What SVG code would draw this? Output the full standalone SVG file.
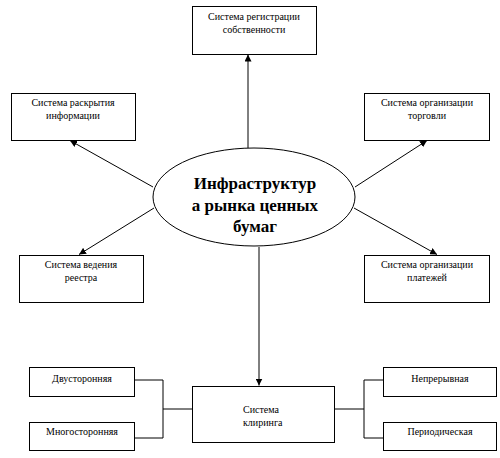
<svg xmlns="http://www.w3.org/2000/svg" width="500" height="458" viewBox="0 0 500 458">
<defs>
<marker id="a" viewBox="0 0 10 10" refX="10" refY="5" markerWidth="7" markerHeight="7" orient="auto" markerUnits="userSpaceOnUse">
<path d="M0,0 L10,5 L0,10 z" fill="#000"/>
</marker>
</defs>
<rect width="500" height="458" fill="#fff"/>
<g id="connectors" fill="none" stroke="#000" stroke-width="1">
<line x1="248" y1="148" x2="248" y2="54.5" marker-end="url(#a)"/>
<line x1="153" y1="187" x2="70" y2="140.5" marker-end="url(#a)"/>
<line x1="355" y1="187" x2="427" y2="140.5" marker-end="url(#a)"/>
<line x1="154" y1="208" x2="79" y2="254.5" marker-end="url(#a)"/>
<line x1="354" y1="208" x2="437" y2="254.5" marker-end="url(#a)"/>
<line x1="259" y1="247" x2="259" y2="385.5" marker-end="url(#a)"/>
<polyline points="135,380 163,380 163,438 135,438"/>
<line x1="163" y1="409" x2="192" y2="409"/>
<polyline points="383,380 364,380 364,438 383,438"/>
<line x1="335" y1="409" x2="364" y2="409"/>
</g>
<g id="center">
<ellipse cx="254" cy="197" rx="101" ry="49" fill="#fff" stroke="#000"/>
<text x="255" y="189" style="font-family:'Times New Roman','Liberation Serif',serif;font-size:17px;font-weight:bold;text-anchor:middle">Инфраструктур</text>
<text x="255" y="211" style="font-family:'Times New Roman','Liberation Serif',serif;font-size:17px;font-weight:bold;text-anchor:middle">а рынка ценных</text>
<text x="255" y="232" style="font-family:'Times New Roman','Liberation Serif',serif;font-size:17px;font-weight:bold;text-anchor:middle">бумаг</text>
</g>
<g id="n-registration">
<rect x="192.5" y="6.5" width="124" height="48" fill="#fff" stroke="#000"/>
<text x="254" y="20" style="font-family:'Times New Roman','Liberation Serif',serif;font-size:10px;text-anchor:middle">Система регистрации</text>
<text x="254" y="33" style="font-family:'Times New Roman','Liberation Serif',serif;font-size:10px;text-anchor:middle">собственности</text>
</g>
<g id="n-disclosure">
<rect x="11.5" y="93.5" width="124" height="47" fill="#fff" stroke="#000"/>
<text x="73" y="106" style="font-family:'Times New Roman','Liberation Serif',serif;font-size:10px;text-anchor:middle">Система раскрытия</text>
<text x="73" y="119" style="font-family:'Times New Roman','Liberation Serif',serif;font-size:10px;text-anchor:middle">информации</text>
</g>
<g id="n-trade">
<rect x="364.5" y="93.5" width="125" height="47" fill="#fff" stroke="#000"/>
<text x="427" y="106" style="font-family:'Times New Roman','Liberation Serif',serif;font-size:10px;text-anchor:middle">Система организации</text>
<text x="427" y="119" style="font-family:'Times New Roman','Liberation Serif',serif;font-size:10px;text-anchor:middle">торговли</text>
</g>
<g id="n-registry">
<rect x="19.5" y="255.5" width="124" height="47" fill="#fff" stroke="#000"/>
<text x="81" y="268" style="font-family:'Times New Roman','Liberation Serif',serif;font-size:10px;text-anchor:middle">Система ведения</text>
<text x="81" y="281" style="font-family:'Times New Roman','Liberation Serif',serif;font-size:10px;text-anchor:middle">реестра</text>
</g>
<g id="n-payments">
<rect x="364.5" y="255.5" width="125" height="47" fill="#fff" stroke="#000"/>
<text x="427" y="268" style="font-family:'Times New Roman','Liberation Serif',serif;font-size:10px;text-anchor:middle">Система организации</text>
<text x="427" y="281" style="font-family:'Times New Roman','Liberation Serif',serif;font-size:10px;text-anchor:middle">платежей</text>
</g>
<g id="n-clearing">
<rect x="192.5" y="386.5" width="142" height="56" fill="#fff" stroke="#000"/>
<text x="243" y="413" style="font-family:'Times New Roman','Liberation Serif',serif;font-size:10px">Система</text>
<text x="243" y="426" style="font-family:'Times New Roman','Liberation Serif',serif;font-size:10px">клиринга</text>
</g>
<g id="n-bilateral">
<rect x="29.5" y="367.5" width="105" height="29" fill="#fff" stroke="#000"/>
<text x="82" y="382" style="font-family:'Times New Roman','Liberation Serif',serif;font-size:10px;text-anchor:middle">Двусторонняя</text>
</g>
<g id="n-multilateral">
<rect x="29.5" y="422.5" width="105" height="28" fill="#fff" stroke="#000"/>
<text x="82" y="435" style="font-family:'Times New Roman','Liberation Serif',serif;font-size:10px;text-anchor:middle">Многосторонняя</text>
</g>
<g id="n-continuous">
<rect x="383.5" y="367.5" width="113" height="29" fill="#fff" stroke="#000"/>
<text x="440" y="382" style="font-family:'Times New Roman','Liberation Serif',serif;font-size:10px;text-anchor:middle">Непрерывная</text>
</g>
<g id="n-periodic">
<rect x="383.5" y="422.5" width="113" height="28" fill="#fff" stroke="#000"/>
<text x="440" y="435" style="font-family:'Times New Roman','Liberation Serif',serif;font-size:10px;text-anchor:middle">Периодическая</text>
</g>
</svg>
